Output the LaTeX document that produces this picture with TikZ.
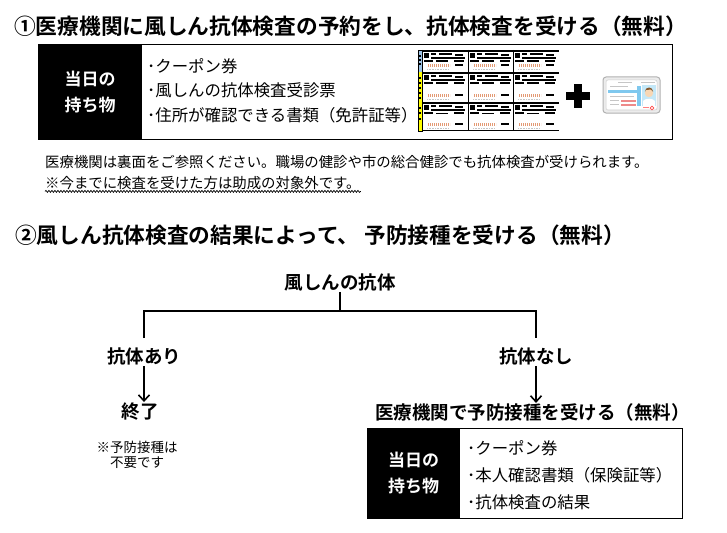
\documentclass[tikz,border=0pt]{standalone}
\usepackage{fontspec}
\usetikzlibrary{arrows.meta,decorations.pathmorphing}
\newfontfamily\jp{Noto Sans CJK JP}
\newfontfamily\jpb{Noto Sans CJK JP Bold}
\definecolor{stripblue}{HTML}{9DC3E6}
\definecolor{stripyellow}{HTML}{FFFF00}
\definecolor{dashorange}{HTML}{E39A74}
\definecolor{cardblue}{HTML}{7FC8EE}
\definecolor{photoblue}{HTML}{C4E8F8}
\definecolor{skin}{HTML}{F8D7B4}
\definecolor{cardred}{HTML}{EE8A8A}
\tikzset{
  title/.style={font=\jpb\fontsize{21.7}{24}\selectfont, anchor=west, inner sep=0pt},
  item/.style={font=\jp\fontsize{16.4}{20}\selectfont, anchor=west, inner sep=0pt},
  note/.style={font=\jp\fontsize{14.4}{17}\selectfont, anchor=west, inner sep=0pt},
  lbl/.style={font=\jpb\fontsize{18.5}{22}\selectfont, inner sep=1pt},
  small/.style={font=\jp\fontsize{13.5}{14.5}\selectfont, align=center, inner sep=0pt},
  outerbox/.style={draw=black, line width=1.3pt, anchor=north west, inner sep=0pt},
  blackbox/.style={fill=black, text=white, anchor=north west, inner sep=0pt, align=center,
    font=\jpb\fontsize{17}{26}\selectfont},
  conn/.style={line width=1.4pt},
  arr/.style={line width=1.4pt, -{Straight Barb[length=6pt,width=11pt,line width=1.6pt]}},
}
\begin{document}
\begin{tikzpicture}[x=1pt,y=-1pt]
\useasboundingbox (0,0) rectangle (727,532);
\fill[white] (0,0) rectangle (727,532);

% ---------- Section 1 ----------
\node[title] (t1) at (14,26) {①医療機関に風しん抗体検査の予約をし、抗体検査を受ける（無料）};

\node[outerbox, minimum width=634pt, minimum height=95pt] (box1) at (38,44) {};
\node[blackbox, minimum width=104pt, minimum height=95pt] (bl1) at (38,44) {当日の\\持ち物};
\node[item] (i11) at (147,66) {･クーポン券};
\node[item] (i12) at (147,90) {･風しんの抗体検査受診票};
\node[item] (i13) at (147,115) {･住所が確認できる書類（免許証等）};

% coupon sheet picture
\fill[stripblue] (418,50) rectangle (422,72);
\fill[stripyellow] (418,72) rectangle (422,131);
\draw[line width=0.6pt] (418,50) rectangle (422,131);
\foreach \yy in {55,59,63,77,82,87,92,97,107,112,118} \fill (418.6,\yy) rectangle (421.4,\yy+2.2);
\foreach \cx/\cw in {422/46,468/45,513/46} {
  \foreach \ry/\rh in {50/22,72/30,102/29} {
    \fill (\cx,\ry) rectangle (\cx+\cw,\ry+2);
    \fill (\cx+2,\ry+3) rectangle (\cx+7,\ry+8);
    \fill (\cx+9,\ry+3.5) rectangle (\cx+14,\ry+5.5);
    \fill (\cx+17,\ry+3.5) rectangle (\cx+30,\ry+5.5);
    \fill (\cx+33,\ry+4) rectangle (\cx+41,\ry+5.8);
    \fill (\cx+9,\ry+7) rectangle (\cx+43,\ry+8.6);
    \fill (\cx+2,\ry+10) rectangle (\cx+11,\ry+12.2);
    \fill (\cx+14,\ry+10.5) rectangle (\cx+26,\ry+11.8);
    \fill (\cx+32,\ry+10) rectangle (\cx+42,\ry+12.4);
    \draw[dashorange, line width=2.8pt, dash pattern=on 1.3pt off 0.7pt] (\cx+6,\ry+\rh-6.5) -- (\cx+28,\ry+\rh-6.5);
    \fill (\cx+33,\ry+\rh-8) rectangle (\cx+41,\ry+\rh-6);
    \draw[gray!45, line width=0.9pt, dash pattern=on 1pt off 0.6pt] (\cx+5,\ry+\rh-2.2) -- (\cx+27,\ry+\rh-2.2);
  }
  \draw[line width=0.8pt] (\cx,50) -- (\cx,131);
}
\fill (422,130) rectangle (559,131);

% plus sign
\fill (566,92) rectangle (590,100);
\fill (574,84) rectangle (582,108);

% license card
\draw[gray!60, fill=gray!15, line width=1pt, rounded corners=3pt] (603,77) rectangle (660,113);
\draw[gray!40, fill=white, line width=0.5pt, rounded corners=2pt] (606,80) rectangle (657,110);
\fill[gray!45] (618,82) rectangle (632,83.5);
\fill[gray!45] (641,82) rectangle (655,83.5);
\fill[gray!45] (610,86) rectangle (628,87.5);
\fill[cardblue] (608,90) rectangle (637,93.5);
\fill[gray!45] (610,96) rectangle (634,97.5);
\fill[gray!45] (610,100) rectangle (619,101.5);
\fill[gray!45] (610,104) rectangle (619,105.5);
\fill[cardred] (621,100) rectangle (636,102.5);
\fill[cardred] (621,104) rectangle (636,106.5);
\fill[cardblue] (637,86) rectangle (641,106);
\fill[photoblue] (642,85) rectangle (656,106);
\fill[white] (643,106) -- (643,101) .. controls (645,98) and (653,98) .. (655,101) -- (655,106) -- cycle;
\fill[skin] (649,93) circle (4.2pt);
\fill[brown!70!black] (644.8,92) .. controls (645,86) and (653,86) .. (653.2,92) -- (651,89.5) -- (646,90) -- cycle;
\draw[red!70, line width=0.7pt] (652,108) circle (1.8pt);
\fill[red!50] (643,107.5) rectangle (649,108.5);

% notes
\node[note] (n1) at (45,162) {医療機関は裏面をご参照ください。職場の健診や市の総合健診でも抗体検査が受けられます。};
\node[note] (n2) at (45,183) {※今までに検査を受けた方は助成の対象外です。};
\draw[decorate, decoration={snake, amplitude=1pt, segment length=3pt}, line width=0.7pt, black]
  ([yshift=-1.5pt]n2.south west) -- ([yshift=-1.5pt]n2.south east);

% ---------- Section 2 ----------
\node[title] (t2) at (15,235) {②風しん抗体検査の結果によって、 予防接種を受ける（無料）};

\node[lbl] (root) at (340,282) {風しんの抗体};
\coordinate (j) at (340,311);
\node[lbl] (yes) at (144,356) {抗体あり};
\node[lbl] (no) at (536,356) {抗体なし};
\coordinate (ly) at (144,338);
\coordinate (ln) at (536,338);
\draw[conn] (root.south) -- (j);
\draw[conn] (ly) -- (ly |- j) -- (ln |- j) -- (ln);

\node[lbl] (end) at (140,412) {終了};
\node[small] (endnote) at (137,455) {※予防接種は\\不要です};
\node[lbl, anchor=west, inner sep=0pt] (inj) at (375,412) {医療機関で予防接種を受ける（無料）};
\draw[arr] (yes.south) -- (yes.south |- end.north);
\draw[arr] (no.south) -- (no.south |- inj.north);

\node[outerbox, minimum width=315pt, minimum height=90pt] (box2) at (367,428) {};
\node[blackbox, minimum width=93pt, minimum height=90pt] (bl2) at (367,428) {当日の\\持ち物};
\node[item] (i21) at (467,448) {･クーポン券};
\node[item] (i22) at (467,475) {･本人確認書類（保険証等）};
\node[item] (i23) at (467,502) {･抗体検査の結果};
\end{tikzpicture}
\end{document}
